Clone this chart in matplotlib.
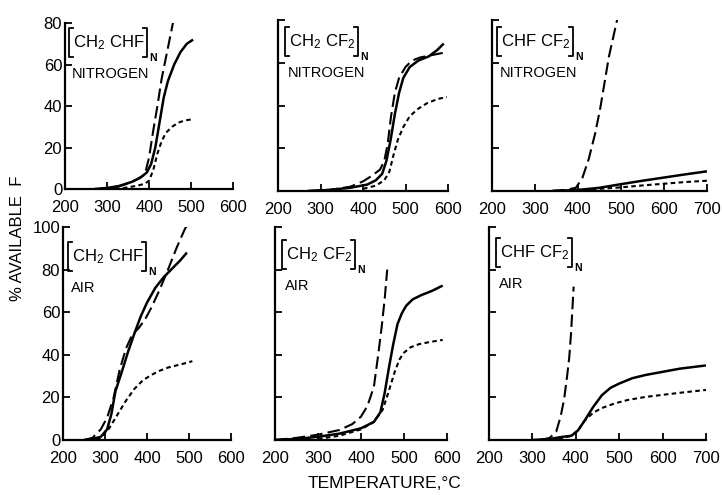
import matplotlib
matplotlib.use("Agg")
import matplotlib.pyplot as plt
from matplotlib.lines import Line2D

plt.rcParams['font.family'] = ['Liberation Sans', 'DejaVu Sans']
plt.rcParams['mathtext.default'] = 'regular'

W, H = 722, 495

# ---- data (temperature in C, % available F) ----
# [CH2 CHF]n, nitrogen
chchf_n2_solid_t = [270, 300, 330, 360, 380, 395, 405, 415, 425, 435, 445, 460, 475, 490, 505]
chchf_n2_solid_v = [0, 0.5, 1.5, 3.5, 5.5, 8, 12, 20, 32, 44, 52, 60, 66, 70, 72]
chchf_n2_dash_t = [280, 310, 340, 370, 390, 400, 410, 420, 430, 440, 450, 460, 465]
chchf_n2_dash_v = [0, 0.5, 2, 4.5, 7, 15, 28, 40, 53, 63, 73, 83, 88]
chchf_n2_dot_t = [300, 340, 370, 390, 400, 410, 420, 430, 440, 455, 470, 485, 500]
chchf_n2_dot_v = [0, 0.5, 1.5, 2.5, 4, 9, 17, 23, 27, 30, 32, 33, 33.5]

# [CH2 CF2]n, nitrogen
cf2_n2_solid_t = [270, 320, 370, 410, 430, 445, 455, 465, 475, 485, 495, 510, 530, 555, 575, 590]
cf2_n2_solid_v = [0, 0.5, 1.5, 3, 5, 8, 14, 24, 36, 46, 53, 58, 61, 63, 66, 69]
cf2_n2_dash_t = [270, 320, 370, 400, 420, 440, 450, 458, 466, 475, 485, 500, 515, 535, 560, 585, 600]
cf2_n2_dash_v = [0, 0.5, 2, 4.5, 7, 10, 14, 22, 35, 46, 53, 58, 61, 62.5, 63.5, 64.5, 64.5]
cf2_n2_dot_t = [400, 430, 450, 462, 472, 482, 495, 510, 530, 550, 575, 597]
cf2_n2_dot_v = [1, 2.5, 5, 9, 17, 24, 30, 35, 38.5, 41, 43, 44]

# [CHF CF2]n, nitrogen
chfcf2_n2_solid_t = [340, 400, 450, 500, 550, 600, 650, 700]
chfcf2_n2_solid_v = [0, 0.5, 1.5, 3.2, 4.8, 6.3, 7.8, 9.2]
chfcf2_n2_dash_t = [340, 370, 395, 410, 425, 440, 452, 462, 472, 482, 492]
chfcf2_n2_dash_v = [0, 0.5, 1.5, 6, 15, 27, 39, 51, 63, 72, 81]
chfcf2_n2_dot_t = [340, 400, 450, 500, 550, 600, 650, 700]
chfcf2_n2_dot_v = [0, 0.5, 1, 1.7, 2.6, 3.4, 4.2, 4.8]

# [CH2 CHF]n, air
chchf_air_solid_t = [250, 270, 290, 305, 315, 325, 340, 355, 370, 385, 400, 420, 440, 460, 480, 495]
chchf_air_solid_v = [0, 0.5, 1.5, 5, 12, 23, 32, 41.5, 50, 58, 64.5, 71.5, 76.5, 80.5, 84.5, 88]
chchf_air_dash_t = [250, 270, 290, 305, 320, 335, 350, 365, 380, 395, 410, 430, 450, 470, 490, 505]
chchf_air_dash_v = [0, 1, 5, 10.5, 19.5, 33, 43, 49.5, 52.5, 56.5, 62, 70.5, 80, 90, 99, 104]
chchf_air_dot_t = [260, 290, 310, 330, 350, 370, 390, 410, 430, 450, 470, 490, 508]
chchf_air_dot_v = [0, 1, 5.5, 12, 18.5, 24, 28, 30.5, 32.5, 34, 35, 36, 37]

# [CH2 CF2]n, air
cf2_air_solid_t = [200, 250, 300, 350, 400, 430, 445, 455, 465, 475, 485, 495, 505, 520, 540, 565, 590]
cf2_air_solid_v = [0, 0.5, 1.5, 3, 5.5, 8.5, 13, 22, 34, 45, 54.5, 59.5, 63, 66, 68, 70, 72.5]
cf2_air_dash_t = [200, 250, 300, 350, 380, 400, 415, 430, 440, 448, 455, 461]
cf2_air_dash_v = [0, 1, 2.5, 4.7, 7.5, 11, 16, 25, 40, 53, 66, 80]
cf2_air_dot_t = [300, 350, 400, 430, 450, 460, 470, 480, 490, 500, 515, 535, 560, 590]
cf2_air_dot_v = [0.5, 2, 5, 8.5, 14, 20, 26.5, 33, 38, 41, 43.5, 45, 46, 47]

# [CHF CF2]n, air
chfcf2_air_solid_t = [300, 340, 370, 390, 405, 420, 440, 460, 480, 500, 530, 560, 600, 640, 680, 700]
chfcf2_air_solid_v = [0, 0.5, 1.5, 2, 4.5, 9, 15.5, 21, 24.5, 26.5, 29, 30.5, 32, 33.5, 34.5, 35]
chfcf2_air_dash_t = [320, 340, 355, 365, 373, 380, 385, 389, 392, 395]
chfcf2_air_dash_v = [0, 1, 4, 11, 19, 30, 39, 50, 61, 72]
chfcf2_air_dot_t = [360, 390, 405, 420, 440, 460, 490, 520, 560, 600, 650, 700]
chfcf2_air_dot_v = [0.5, 2, 4.5, 9, 12.8, 15, 17.2, 18.8, 20.2, 21.2, 22.4, 23.5]

fig = plt.figure(figsize=(W / 100, H / 100), dpi=100)


def add_panel(left, right, top, bottom, xmax, ymax, ylabels):
    ax = fig.add_axes([left / W, 1 - bottom / H, (right - left) / W, (bottom - top) / H])
    ax.set_xlim(200, xmax)
    ax.set_ylim(0, ymax)
    ax.set_xticks(range(200, xmax + 1, 100))
    ax.set_yticks(range(0, ymax + 1, 20))
    for s in ['top', 'right']:
        ax.spines[s].set_visible(False)
    for s in ['left', 'bottom']:
        ax.spines[s].set_linewidth(1.6)
    ax.tick_params(direction='in', length=5, width=1.3, labelsize=12)
    ax.tick_params(axis='x', pad=8)
    ax.tick_params(axis='y', pad=2)
    if not ylabels:
        ax.set_yticklabels([])
    ax.patch.set_alpha(0)
    return ax


def curves(ax, st, sv, dt, dv, pt, pv):
    ax.plot(st, sv, color='k', lw=1.8, solid_capstyle='butt')
    ax.plot(dt, dv, color='k', lw=1.5, dashes=(6, 2.5))
    ax.plot(pt, pv, color='k', lw=1.5, dashes=(2.2, 1.6))


def fx(x):
    return x / W


def fy(y):
    return 1 - y / H


def bracket(x, y0, y1, d):
    fig.add_artist(Line2D([fx(x + d), fx(x), fx(x), fx(x + d)],
                          [fy(y0), fy(y0), fy(y1), fy(y1)], color='k', lw=1.3))


def formula(x, top, text, gas):
    t = fig.text(fx(x + 4), fy(top + 19), text, fontsize=12, va='baseline', ha='left')
    fig.canvas.draw()
    ext = t.get_window_extent()
    xr = ext.x1 + 2
    bracket(x, top, top + 29, 4)
    bracket(xr, top, top + 29, -4)
    fig.text(fx(xr + 2), fy(top + 33), 'N', fontsize=7.5, fontweight='bold', va='baseline', ha='left')
    fig.text(fx(x + 3), fy(top + 50), gas, fontsize=10.5, va='baseline', ha='left')


ax1 = add_panel(65, 233, 23, 189, 600, 80, True)
curves(ax1, chchf_n2_solid_t, chchf_n2_solid_v, chchf_n2_dash_t, chchf_n2_dash_v,
       chchf_n2_dot_t, chchf_n2_dot_v)
ax2 = add_panel(278, 448, 20, 191, 600, 80, False)
curves(ax2, cf2_n2_solid_t, cf2_n2_solid_v, cf2_n2_dash_t, cf2_n2_dash_v,
       cf2_n2_dot_t, cf2_n2_dot_v)
ax3 = add_panel(492, 707, 20, 191, 700, 80, False)
curves(ax3, chfcf2_n2_solid_t, chfcf2_n2_solid_v, chfcf2_n2_dash_t, chfcf2_n2_dash_v,
       chfcf2_n2_dot_t, chfcf2_n2_dot_v)
ax4 = add_panel(63, 231, 227, 440, 600, 100, True)
curves(ax4, chchf_air_solid_t, chchf_air_solid_v, chchf_air_dash_t, chchf_air_dash_v,
       chchf_air_dot_t, chchf_air_dot_v)
ax5 = add_panel(275, 447, 227, 440, 600, 100, False)
curves(ax5, cf2_air_solid_t, cf2_air_solid_v, cf2_air_dash_t, cf2_air_dash_v,
       cf2_air_dot_t, cf2_air_dot_v)
ax6 = add_panel(489, 706, 227, 440, 700, 100, False)
curves(ax6, chfcf2_air_solid_t, chfcf2_air_solid_v, chfcf2_air_dash_t, chfcf2_air_dash_v,
       chfcf2_air_dot_t, chfcf2_air_dot_v)

formula(69, 28, r'$\mathregular{CH_2\ CHF}$', 'NITROGEN')
formula(285, 27, r'$\mathregular{CH_2\ CF_2}$', 'NITROGEN')
formula(497, 27, r'$\mathregular{CHF\ CF_2}$', 'NITROGEN')
formula(68, 242, r'$\mathregular{CH_2\ CHF}$', 'AIR')
formula(282, 240, r'$\mathregular{CH_2\ CF_2}$', 'AIR')
formula(496, 238, r'$\mathregular{CHF\ CF_2}$', 'AIR')

fig.text(fx(18), fy(238), '% AVAILABLE  F', rotation=90, fontsize=12,
         ha='center', va='center')
fig.text(fx(384), fy(483), 'TEMPERATURE,°C', fontsize=12.5, ha='center', va='center')

fig.savefig('out.png', dpi=100)
